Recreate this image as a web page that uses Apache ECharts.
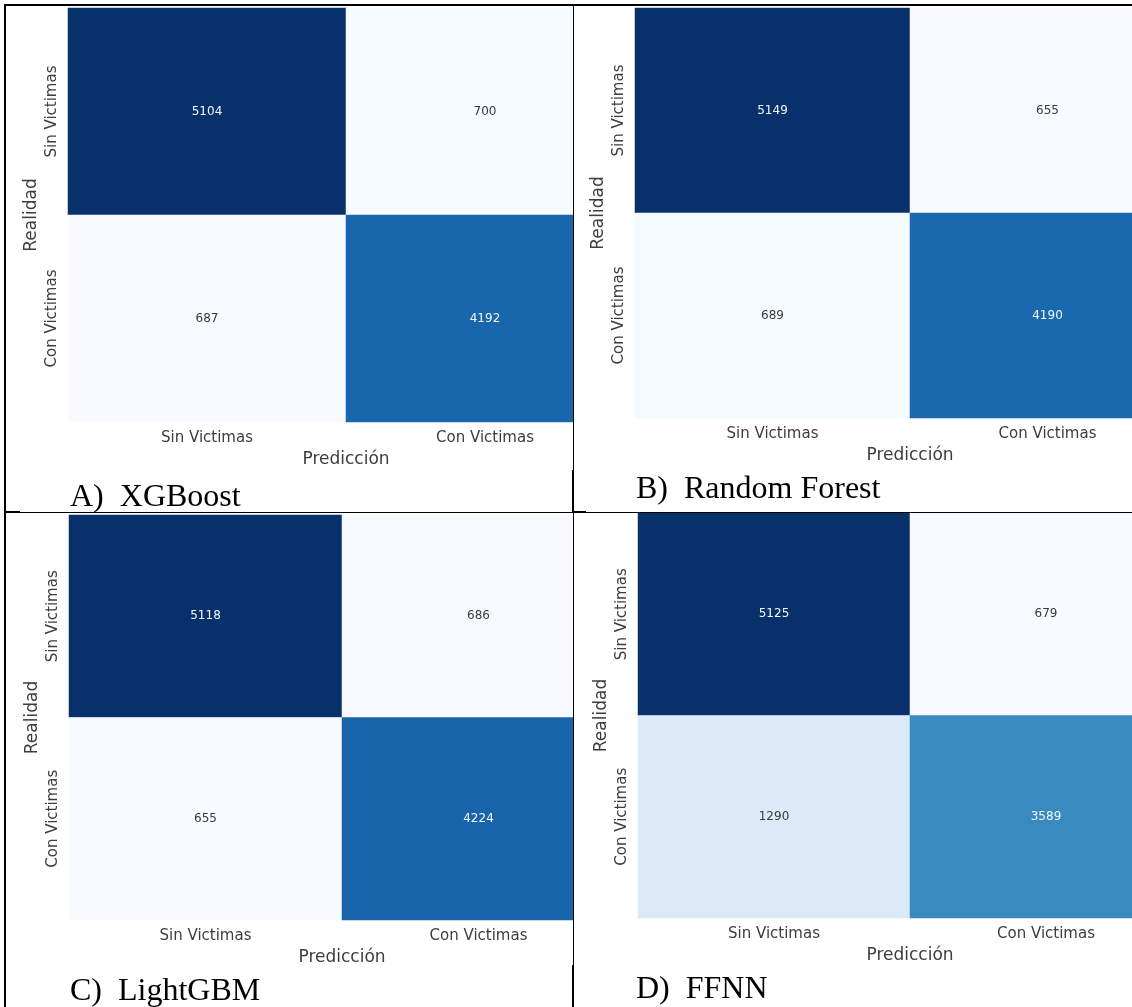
<!DOCTYPE html>
<html>
<head>
<meta charset="utf-8">
<title>Matrices de confusión</title>
<script src="https://cdn.jsdelivr.net/npm/echarts@6/dist/echarts.min.js"></script>
<style>
  html, body { margin: 0; padding: 0; background: #fff; }
  #page { position: relative; width: 1132px; height: 1007px; overflow: hidden; background: #fff; }
  .clip { position: absolute; overflow: hidden; }
  .chart { position: absolute; width: 1400px; height: 1007px; }
  .rule { position: absolute; background: #000; z-index: 5; }
</style>
</head>
<body>
<div id="page"></div>
<script>
// Class labels shared by both axes
const classes = ['Sin Victimas', 'Con Victimas'];
const xAxisTitle = 'Predicción';
const yAxisTitle = 'Realidad';

// Confusion matrices: rows = actual class, columns = predicted class
const xgboostMatrix = [[5104, 700], [687, 4192]];
const randomForestMatrix = [[5149, 655], [689, 4190]];
const lightgbmMatrix = [[5118, 686], [655, 4224]];
const ffnnMatrix = [[5125, 679], [1290, 3589]];

const captions = ['A)  XGBoost', 'B)  Random Forest', 'C)  LightGBM', 'D)  FFNN'];

// matplotlib "Blues" colormap stops
const blues = ['#f7fbff', '#deebf7', '#c6dbef', '#9ecae1', '#6baed6', '#4292c6', '#2171b5', '#08519c', '#08306b'];

// Table cells (clip rectangles) and heatmap grids, in page pixels
const panels = [
  { matrix: xgboostMatrix,      caption: captions[0], clip: [6, 6, 567, 506],   grid: [68, 8, 556, 414],  cap: [70, 482] },
  { matrix: randomForestMatrix, caption: captions[1], clip: [574, 6, 558, 506], grid: [635, 8, 550, 410], cap: [636, 474] },
  { matrix: lightgbmMatrix,     caption: captions[2], clip: [6, 513, 567, 494], grid: [69, 515, 546, 405], cap: [70, 976] },
  { matrix: ffnnMatrix,         caption: captions[3], clip: [574, 513, 558, 494], grid: [638, 513, 544, 405], cap: [636, 974] }
];

const page = document.getElementById('page');
const tickColor = '#3d3d3d';
const sans = 'DejaVu Sans';

panels.forEach(function (p) {
  const clip = document.createElement('div');
  clip.className = 'clip';
  clip.style.left = p.clip[0] + 'px';
  clip.style.top = p.clip[1] + 'px';
  clip.style.width = p.clip[2] + 'px';
  clip.style.height = p.clip[3] + 'px';
  const el = document.createElement('div');
  el.className = 'chart';
  el.style.left = (-p.clip[0]) + 'px';
  el.style.top = (-p.clip[1]) + 'px';
  clip.appendChild(el);
  page.appendChild(clip);

  const flat = p.matrix[0].concat(p.matrix[1]);
  const vmin = Math.min.apply(null, flat);
  const vmax = Math.max.apply(null, flat);
  const data = [];
  p.matrix.forEach(function (row, r) {
    row.forEach(function (v, c) {
      const t = (v - vmin) / (vmax - vmin);
      data.push({
        value: [c, r, v],
        label: { color: t > 0.45 ? '#f4f8fc' : '#3a3a3a' }
      });
    });
  });

  const chart = echarts.init(el, null, { renderer: 'canvas' });
  chart.setOption({
    animation: false,
    backgroundColor: 'transparent',
    textStyle: { fontFamily: sans },
    grid: { left: p.grid[0], top: p.grid[1], width: p.grid[2], height: p.grid[3], containLabel: false },
    xAxis: {
      type: 'category',
      data: classes,
      position: 'bottom',
      axisLine: { show: false },
      axisTick: { show: false },
      splitLine: { show: false },
      axisLabel: { fontSize: 15, color: tickColor, margin: 9, fontFamily: sans },
      name: xAxisTitle,
      nameLocation: 'middle',
      nameGap: 29,
      nameTextStyle: { fontSize: 17, color: tickColor, fontFamily: sans }
    },
    yAxis: {
      type: 'category',
      data: classes,
      inverse: true,
      axisLine: { show: false },
      axisTick: { show: false },
      splitLine: { show: false },
      axisLabel: { fontSize: 15, color: tickColor, margin: 8, rotate: 90, align: 'center', verticalAlign: 'bottom', fontFamily: sans },
      name: yAxisTitle,
      nameLocation: 'middle',
      nameGap: 28,
      nameTextStyle: { fontSize: 17, color: tickColor, fontFamily: sans }
    },
    visualMap: {
      show: false,
      min: vmin,
      max: vmax,
      dimension: 2,
      inRange: { color: blues }
    },
    series: [{
      type: 'heatmap',
      data: data,
      label: { show: true, fontSize: 12, fontFamily: sans },
      itemStyle: { borderWidth: 0 },
      emphasis: { disabled: true }
    }],
    graphic: [{
      type: 'text',
      left: p.cap[0],
      top: p.cap[1],
      style: { text: p.caption, font: '32px "Liberation Serif"', fill: '#000' }
    }]
  });
});

// Table rules drawn over the panels
const rules = [
  [4, 4, 1128, 2],      // top border
  [4, 4, 2, 1003],      // left border
  [573, 4, 1, 1003],    // middle vertical
  [572, 470, 2, 42],    // thicker stub beside caption A
  [572, 965, 2, 42],    // thicker stub beside caption C
  [4, 512, 1128, 1],    // middle horizontal
  [4, 511, 16, 2],
  [573, 511, 13, 2]
];
rules.forEach(function (r) {
  const d = document.createElement('div');
  d.className = 'rule';
  d.style.left = r[0] + 'px';
  d.style.top = r[1] + 'px';
  d.style.width = r[2] + 'px';
  d.style.height = r[3] + 'px';
  page.appendChild(d);
});
</script>
</body>
</html>
